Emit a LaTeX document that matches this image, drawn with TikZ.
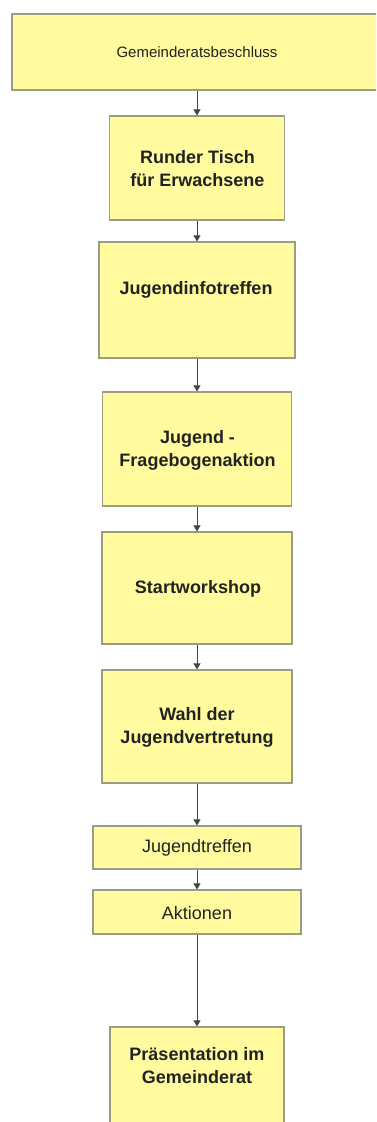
\documentclass[tikz,border=0pt]{standalone}
\usepackage{fontspec}
\setmainfont{Liberation Sans}
\usetikzlibrary{arrows.meta}
\definecolor{boxfill}{HTML}{FFFB9E}
\definecolor{boxline}{HTML}{9C9C84}
\definecolor{inktext}{HTML}{222222}
\definecolor{linkline}{HTML}{444444}
\tikzset{
  x=1pt, y=-1pt,
  stepbox/.style={draw=boxline, fill=boxfill, line width=1.2pt, inner sep=0pt},
  boldtext/.style={font=\fontsize{18}{23}\selectfont\bfseries, text=inktext, align=center, inner sep=0pt},
  plaintext/.style={font=\fontsize{18}{22}\selectfont, text=inktext, align=center, inner sep=0pt},
  smalltext/.style={font=\fontsize{15}{18}\selectfont, text=inktext, align=center, inner sep=0pt},
  link/.style={draw=linkline, line width=0.9pt, -{Triangle[width=7pt,length=6pt]}},
}
\begin{document}
\begin{tikzpicture}
\useasboundingbox (0,0) rectangle (376,1122);
\clip (0,0) rectangle (376,1122);
\fill[white] (0,0) rectangle (376,1122);

% boxes of the process chain, top to bottom, all centred on one axis
\node[stepbox, minimum width=370pt, minimum height=76pt] (b1) at (197,52) {};
\node[stepbox, minimum width=175pt, minimum height=104pt] (b2) at (197,168) {};
\node[stepbox, minimum width=196pt, minimum height=116pt] (b3) at (197,300) {};
\node[stepbox, minimum width=189pt, minimum height=114pt] (b4) at (197,449) {};
\node[stepbox, minimum width=190pt, minimum height=112pt] (b5) at (197,588) {};
\node[stepbox, minimum width=190pt, minimum height=113pt] (b6) at (197,726.5) {};
\node[stepbox, minimum width=208pt, minimum height=43pt] (b7) at (197,847.5) {};
\node[stepbox, minimum width=208pt, minimum height=44pt] (b8) at (197,912) {};
\node[stepbox, minimum width=174pt, minimum height=110pt] (b9) at (197,1082) {};

% labels
\node[smalltext] (t1) at (197,52) {Gemeinderatsbeschluss};
\node[boldtext] (t2) at (197.5,169) {Runder Tisch\\für Erwachsene};
\node[boldtext] (t3) at (196,290) {Jugendinfotreffen};
\node[boldtext] (t4) at (197.5,450) {Jugend -\\Fragebogenaktion};
\node[boldtext] (t5) at (198,589) {Startworkshop};
\node[boldtext] (t6) at (197,727) {Wahl der\\Jugendvertretung};
\node[plaintext] (t7) at (197,848) {Jugendtreffen};
\node[plaintext] (t8) at (197,913) {Aktionen};
\node[boldtext] (t9) at (197,1066) {Präsentation im\\Gemeinderat};

% connectors
\foreach \a/\b in {b1/b2, b2/b3, b3/b4, b4/b5, b5/b6, b6/b7, b7/b8, b8/b9}{
  \draw[link] (\a.south) -- (\b.north);
}
\end{tikzpicture}
\end{document}
